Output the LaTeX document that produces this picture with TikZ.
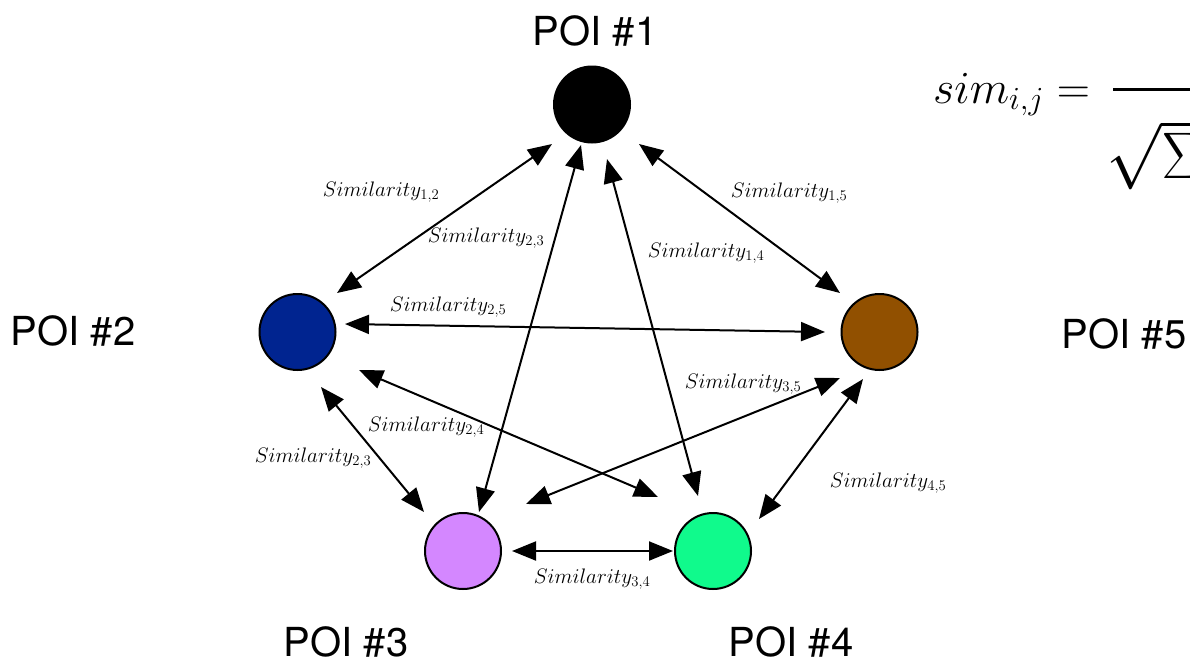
\RequirePackage{fix-cm}
\documentclass[tikz,border=0pt]{standalone}
\usepackage{fontspec}
\setsansfont{TeX Gyre Heros}
\usetikzlibrary{arrows.meta,calc}
\definecolor{poiblue}{HTML}{002490}
\definecolor{poibrown}{HTML}{915000}
\definecolor{poiviolet}{HTML}{D487FF}
\definecolor{poigreen}{HTML}{10FA8C}
\begin{document}
\begin{tikzpicture}[x=1pt,y=-1pt,
  poi/.style={circle,draw=black,line width=2pt,minimum size=76pt,inner sep=0pt},
  poilabel/.style={font=\sffamily\fontsize{40}{48}\selectfont,inner sep=0pt},
  lbl/.style={font=\fontsize{21}{25}\selectfont,inner sep=0pt},
  link/.style={line width=2pt,{Triangle[length=24pt,width=19pt]}-{Triangle[length=24pt,width=19pt]}},
  formula/.style={anchor=base west,inner sep=0pt}]
\clip (0,0) rectangle (1190,664);
% POI circles
\node[poi,fill=black]     (p1) at (592,104.5) {};
\node[poi,fill=poiblue]   (p2) at (297.5,332) {};
\node[poi,fill=poiviolet] (p3) at (463,551) {};
\node[poi,fill=poigreen]  (p4) at (713,551) {};
\node[poi,fill=poibrown]  (p5) at (879.5,332) {};
% POI labels
\node[poilabel] (t1) at (595,31) {POI \#1};
\node[poilabel] (t2) at (73,331) {POI \#2};
\node[poilabel] (t3) at (346,642) {POI \#3};
\node[poilabel] (t4) at (791,642) {POI \#4};
\node[poilabel] (t5) at (1124,334) {POI \#5};
% connector ends
\coordinate (a12) at ($(p1)+(-40,39.5)$);  \coordinate (b12) at ($(p2)+(39.5,-39)$);
\coordinate (a13) at ($(p1)+(-11,40.5)$);  \coordinate (b13) at ($(p3)+(16,-39)$);
\coordinate (a14) at ($(p1)+(15,54.5)$);   \coordinate (b14) at ($(p4)+(-15,-55)$);
\coordinate (a15) at ($(p1)+(47,39.5)$);   \coordinate (b15) at ($(p5)+(-39.5,-39)$);
\coordinate (a23) at ($(p2)+(23.5,55)$);   \coordinate (b23) at ($(p3)+(-39,-39)$);
\coordinate (a24) at ($(p2)+(61.5,38)$);   \coordinate (b24) at ($(p4)+(-55,-54)$);
\coordinate (a25) at ($(p2)+(47.5,-8)$);   \coordinate (b25) at ($(p5)+(-54.5,0)$);
\coordinate (a34) at ($(p3)+(49,0)$);      \coordinate (b34) at ($(p4)+(-40,0)$);
\coordinate (a35) at ($(p3)+(63,-47)$);    \coordinate (b35) at ($(p5)+(-39.5,46)$);
\coordinate (a45) at ($(p4)+(46,-32)$);    \coordinate (b45) at ($(p5)+(-16.5,47)$);
% connectors
\draw[link] (a12) -- (b12);
\draw[link] (a13) -- (b13);
\draw[link] (a14) -- (b14);
\draw[link] (a15) -- (b15);
\draw[link] (a23) -- (b23);
\draw[link] (a24) -- (b24);
\draw[link] (a25) -- (b25);
\draw[link] (a34) -- (b34);
\draw[link] (a35) -- (b35);
\draw[link] (a45) -- (b45);
% connector labels
\node[lbl] (l12) at (381,192) {$Similarity_{1,2}$};
\node[lbl] (l13) at (486,238) {$Similarity_{2,3}$};
\node[lbl] (l15) at (789,193) {$Similarity_{1,5}$};
\node[lbl] (l14) at (706,253) {$Similarity_{1,4}$};
\node[lbl] (l25) at (448,307) {$Similarity_{2,5}$};
\node[lbl] (l24) at (426,427) {$Similarity_{2,4}$};
\node[lbl] (l23) at (313,458) {$Similarity_{2,3}$};
\node[lbl] (l35) at (743,384) {$Similarity_{3,5}$};
\node[lbl] (l45) at (888,483) {$Similarity_{4,5}$};
\node[lbl] (l34) at (592,579) {$Similarity_{3,4}$};
% formula (cut off at the right edge)
\node[formula,font=\fontsize{46}{50}\selectfont] (simlhs) at (933,103) {$sim_{i,j} =$};
\coordinate (barL) at (1113,89); \coordinate (barR) at (1200,89);
\draw[line width=3pt] (barL) -- (barR);
\node[formula,font=\fontsize{66}{70}\selectfont] (den) at (1106,178) {$\sqrt{\vphantom{\rule[-8pt]{0pt}{56pt}}\Sigma\hphantom{MM}}$};
\end{tikzpicture}
\end{document}
